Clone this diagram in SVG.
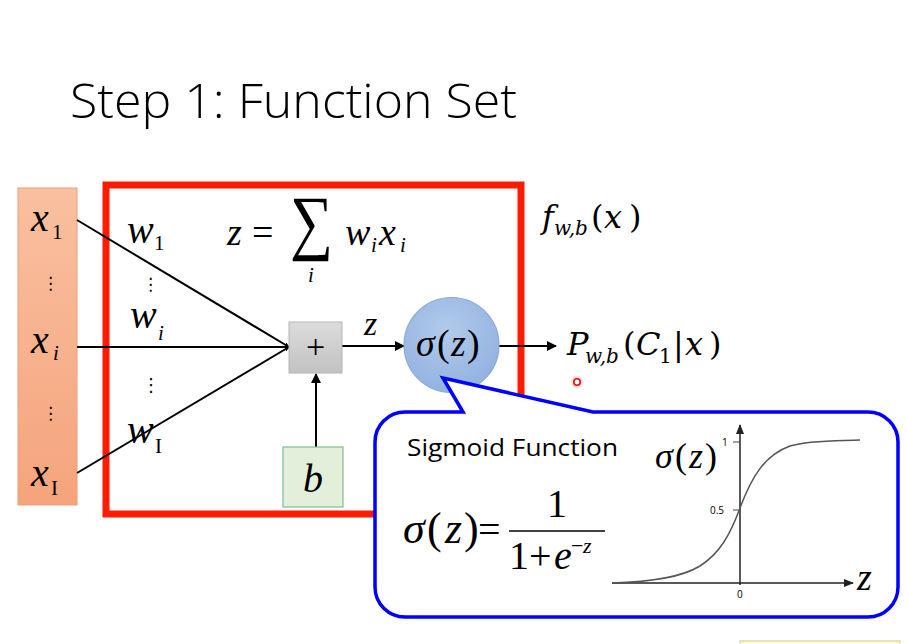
<svg xmlns="http://www.w3.org/2000/svg" width="907" height="644" viewBox="0 0 907 644">
<style>
.m{font-family:"Liberation Serif","Times New Roman",serif;fill:#000}
.i{font-style:italic}
.s{font-family:"Open Sans","Liberation Sans",sans-serif;fill:#000}
.c{font-family:"DejaVu Serif","Liberation Serif",serif;fill:#000}
.ln{stroke:#000;stroke-width:2;fill:none}
.dots{font-family:"DejaVu Sans",sans-serif;fill:#000}
</style>
<defs>
<marker id="ah" viewBox="0 0 10 10" refX="9" refY="5" markerWidth="5" markerHeight="5" orient="auto" markerUnits="userSpaceOnUse">
<path d="M0,0 L10,5 L0,10 Z" fill="#000"/>
</marker>
<marker id="ah2" viewBox="0 0 10 10" refX="9" refY="5" markerWidth="10" markerHeight="10" orient="auto" markerUnits="userSpaceOnUse">
<path d="M0,0 L10,5 L0,10 Z" fill="#000"/>
</marker>
<marker id="ah3" viewBox="0 0 10 10" refX="9" refY="5" markerWidth="12" markerHeight="10" orient="auto" markerUnits="userSpaceOnUse">
<path d="M0,1 L10,5 L0,9 Z" fill="#222"/>
</marker>
<linearGradient id="og" x1="0" y1="0" x2="0" y2="1">
<stop offset="0" stop-color="#f9c0a0"/><stop offset="1" stop-color="#f5a47c"/>
</linearGradient>
<linearGradient id="gg" x1="0" y1="0" x2="0" y2="1">
<stop offset="0" stop-color="#dcdcdc"/><stop offset="1" stop-color="#c2c2c2"/>
</linearGradient>
<radialGradient id="bg" cx="0.45" cy="0.35" r="0.7">
<stop offset="0" stop-color="#b3cbeb"/><stop offset="1" stop-color="#8fb0e0"/>
</radialGradient>
</defs>
<rect width="907" height="644" fill="#fff"/>

<g id="title"><text x="70" y="118" class="s" font-size="48" font-weight="300" textLength="447" lengthAdjust="spacingAndGlyphs">Step 1: Function Set</text></g>

<g id="inputs">
<rect x="18" y="188" width="59" height="317" fill="url(#og)" stroke="#f19c74" stroke-width="1"/>
<text x="31" y="231" class="m i" font-size="40">x</text><text x="52" y="239" class="m" font-size="21">1</text>
<text x="42" y="289" class="dots" font-size="17">⋮</text>
<text x="31" y="353" class="m i" font-size="40">x</text><text x="53" y="360" class="m i" font-size="21">i</text>
<text x="42" y="419" class="dots" font-size="17">⋮</text>
<text x="31" y="486" class="m i" font-size="40">x</text><text x="51" y="495" class="m" font-size="21">I</text>
</g>

<g id="neuron-box"><rect x="106" y="185" width="415" height="329" fill="none" stroke="#ff1a00" stroke-width="7"/></g>

<g id="connectors">
<line x1="77" y1="220" x2="289" y2="347" class="ln" marker-end="url(#ah)"/>
<line x1="77" y1="347" x2="289" y2="347" class="ln" marker-end="url(#ah)"/>
<line x1="77" y1="473" x2="289" y2="347" class="ln" marker-end="url(#ah)"/>
<line x1="316" y1="447" x2="316" y2="374" class="ln" marker-end="url(#ah2)"/>
<line x1="342" y1="346" x2="404" y2="346" class="ln" marker-end="url(#ah2)"/>
<line x1="499" y1="346" x2="556" y2="346" class="ln" marker-end="url(#ah2)"/>
</g>

<g id="weights">
<text x="127" y="243" class="m i" font-size="40">w</text><text x="154" y="250" class="m" font-size="21">1</text>
<text x="142" y="290" class="dots" font-size="17">⋮</text>
<text x="130" y="328" class="m i" font-size="40">w</text><text x="158" y="340" class="m i" font-size="21">i</text>
<text x="142" y="391" class="dots" font-size="18">⋮</text>
<text x="127" y="443" class="m i" font-size="40">w</text><text x="155" y="453" class="m" font-size="21">I</text>
</g>

<g id="sum-formula">
<text x="227" y="245" class="m i" font-size="38">z</text>
<text x="252" y="245" class="m" font-size="38">=</text>
<text x="290" y="246" class="m" font-size="72" textLength="43" lengthAdjust="spacingAndGlyphs">∑</text>
<text x="308" y="282" class="m i" font-size="21">i</text>
<text x="345" y="245" class="m i" font-size="38">w</text><text x="371" y="252" class="m i" font-size="21">i</text>
<text x="379" y="245" class="m i" font-size="38">x</text><text x="400" y="252" class="m i" font-size="21">i</text>
</g>

<g id="sum-node">
<rect x="289" y="322" width="53" height="51" fill="url(#gg)" stroke="#b5b5b5" stroke-width="1"/>
<text x="315.5" y="358" class="m" font-size="34" text-anchor="middle">+</text>
</g>

<g id="bias-node">
<rect x="283" y="447" width="60" height="60" fill="#e2efda" stroke="#7fbf8f" stroke-width="1.2"/>
<text x="313" y="492" class="m i" font-size="40" text-anchor="middle">b</text>
</g>

<text x="364" y="335" class="m i" font-size="34">z</text>

<g id="sigmoid-node">
<circle cx="451.5" cy="345" r="47.5" fill="url(#bg)" stroke="#8eaad8" stroke-width="1.2"/>
<text x="416" y="356" class="m i" font-size="38">σ</text>
<text x="437" y="356" class="m" font-size="38">(</text>
<text x="451" y="356" class="m i" font-size="38">z</text>
<text x="467" y="356" class="m" font-size="38">)</text>
</g>

<g id="output-label">
<text x="567" y="355" class="c i" font-size="32">P</text>
<text x="585" y="363" class="c i" font-size="20">w,b</text>
<text x="623" y="355" class="c" font-size="32">(</text>
<text x="636" y="355" class="c i" font-size="32">C</text>
<text x="659" y="363" class="c" font-size="20">1</text>
<text x="673" y="355" class="c" font-size="32">|</text>
<text x="685" y="355" class="c i" font-size="32">x</text>
<text x="709" y="355" class="c" font-size="32">)</text>
<circle cx="577" cy="382" r="6" fill="#ff9a9a" opacity="0.35"/>
<circle cx="577" cy="382" r="3.2" fill="#fff" stroke="#e01010" stroke-width="1.6"/>
</g>

<g id="function-label">
<text x="542" y="228" class="c i" font-size="32">f</text>
<text x="554" y="235" class="c i" font-size="20">w,b</text>
<text x="591" y="228" class="c" font-size="32">(</text>
<text x="604" y="228" class="c i" font-size="32">x</text>
<text x="629" y="228" class="c" font-size="32">)</text>
</g>

<g id="callout">
<path d="M463,412 L443,378 L452,380 L593,412 H868 A30,30 0 0 1 898,442 V587 A30,30 0 0 1 868,617 H405 A30,30 0 0 1 375,587 V442 A30,30 0 0 1 405,412 Z" fill="#fff" stroke="#0000ff" stroke-width="3.5" stroke-linejoin="miter"/>
<text x="407" y="456" class="s" font-size="23" textLength="211" lengthAdjust="spacingAndGlyphs">Sigmoid Function</text>
<text x="403" y="543" class="m i" font-size="44">σ</text>
<text x="427" y="543" class="m" font-size="44">(</text>
<text x="445" y="543" class="m i" font-size="44">z</text>
<text x="464" y="543" class="m" font-size="44">)</text>
<text x="478" y="543" class="m" font-size="40">=</text>
<text x="557" y="517" class="m" font-size="40" text-anchor="middle">1</text>
<line x1="509" y1="531" x2="605" y2="531" stroke="#000" stroke-width="1.6"/>
<text x="509" y="569" class="m" font-size="40">1+</text>
<text x="554" y="569" class="m i" font-size="40">e</text>
<text x="571" y="553" class="m" font-size="22">−</text>
<text x="583" y="553" class="m i" font-size="22">z</text>
</g>

<g id="sigmoid-graph">
<line x1="612" y1="583" x2="853" y2="583" stroke="#222" stroke-width="1.5" marker-end="url(#ah3)"/>
<line x1="740" y1="585" x2="740" y2="425" stroke="#222" stroke-width="1.5" marker-end="url(#ah3)"/>
<line x1="733" y1="442" x2="740" y2="442" stroke="#444" stroke-width="1"/>
<line x1="733" y1="510" x2="740" y2="510" stroke="#444" stroke-width="1"/>
<path d="M612,583 C650,582 680,578 700,566 C720,553 730,535 740,508 C752,476 765,455 790,446 C810,440 840,441 860,440" fill="none" stroke="#555" stroke-width="1.5" stroke-linejoin="round"/>
<text x="722" y="446" class="s" font-size="10" fill="#333">1</text>
<text x="710" y="514" class="s" font-size="10" fill="#333">0.5</text>
<text x="737" y="598" class="s" font-size="10" fill="#333">0</text>
<text x="857" y="590" class="m i" font-size="38">z</text>
<text x="655" y="468" class="m i" font-size="36">σ</text>
<text x="675" y="468" class="m" font-size="36">(</text>
<text x="689" y="468" class="m i" font-size="36">z</text>
<text x="705" y="468" class="m" font-size="36">)</text>
</g>

<rect x="740" y="641" width="160" height="6" fill="#ffffcc" stroke="#c8c8a0" stroke-width="1"/>
</svg>
